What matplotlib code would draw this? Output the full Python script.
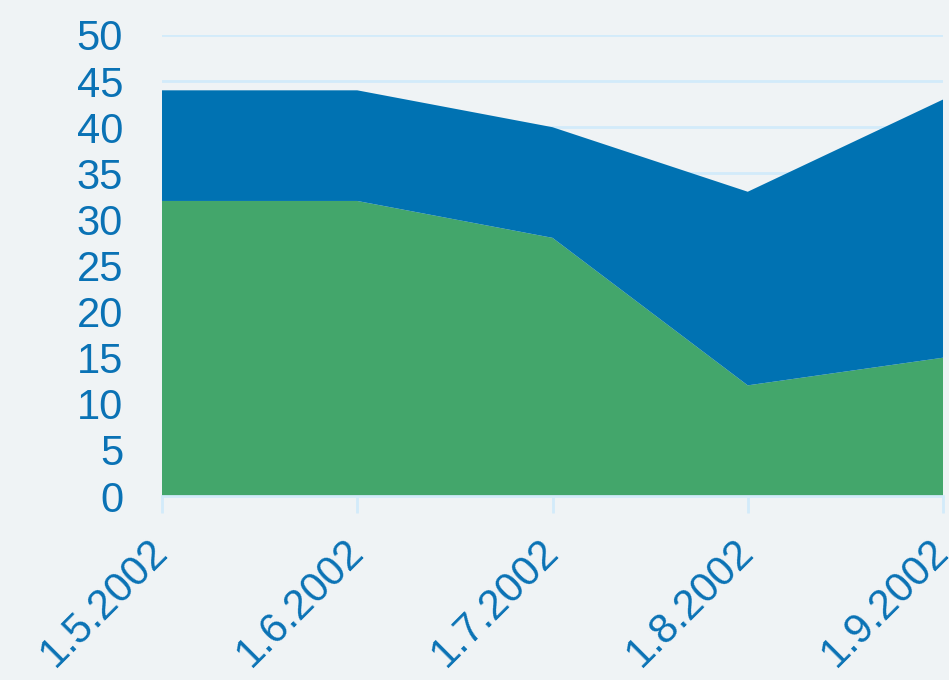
import matplotlib
matplotlib.use("Agg")
import matplotlib.pyplot as plt

dates = ["1.5.2002", "1.6.2002", "1.7.2002", "1.8.2002", "1.9.2002"]
green_vals = [32, 32, 28, 12, 15]
blue_vals = [12, 12, 12, 21, 28]
yticks = [0, 5, 10, 15, 20, 25, 30, 35, 40, 45, 50]

bg = "#eff3f5"
txt = "#0a72b5"
grid_c = "#d2ebfa"

plt.rcParams['font.family'] = ['Liberation Sans', 'DejaVu Sans']
fig = plt.figure(figsize=(9.49, 6.8), dpi=100, facecolor=bg)
ax = fig.add_axes([162/949, 1-496/680, (943-162)/949, (496-35)/680])
ax.set_facecolor(bg)
x = list(range(len(dates)))
ax.stackplot(x, green_vals, blue_vals, colors=["#43a66b", "#0072b2"], linewidth=0)
ax.set_xlim(0, len(dates)-1)
ax.set_ylim(0, 50)
ax.set_yticks(yticks)
ax.set_xticks(x)
ax.set_xticklabels(dates, rotation=45, ha="right", va="center", rotation_mode="anchor")
ax.yaxis.grid(True, color=grid_c, linewidth=2)
ax.set_axisbelow(True)
for s in ["top", "right", "left"]:
    ax.spines[s].set_visible(False)
ax.spines["bottom"].set_color(grid_c)
ax.spines["bottom"].set_linewidth(2)
ax.tick_params(axis="y", length=0, labelsize=30, labelcolor=txt, pad=28)
ax.tick_params(axis="x", length=12, width=2, color=grid_c, labelsize=30, labelcolor=txt, pad=24)
fig.savefig("out.png", dpi=100, facecolor=bg)
